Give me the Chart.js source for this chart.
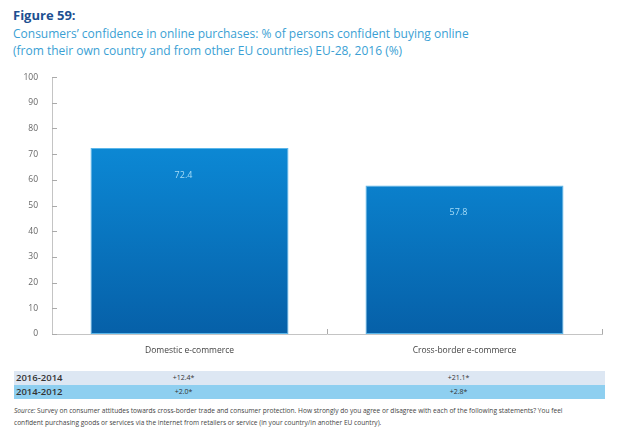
<!DOCTYPE html>
<html lang="en">
<head>
<meta charset="UTF-8">
<title>Figure 59</title>
<script src="https://cdn.jsdelivr.net/npm/chart.js"></script>
<style>
  body { margin: 0; background: #fff; font-family: "Open Sans", sans-serif; }
  .page { position: relative; width: 620px; height: 443px; overflow: hidden; }
  .fig { position: absolute; left: 13px; top: 6px; font-size: 13px; font-weight: bold; color: #1d4f91; }
  .sub { position: absolute; left: 13px; top: 25px; font-size: 12px; line-height: 17px; color: #3a9fd4; }
  #chartBox { position: absolute; left: 0; top: 66px; width: 620px; height: 290px; }
  .row { position: absolute; left: 14px; width: 591px; height: 14px; font-size: 9.5px; line-height: 14px; color: #333; }
  .row span { position: absolute; top: 0; }
  .row .lbl { left: 2px; font-weight: 600; }
  .row .val { font-size: 7px; transform: translateX(-50%); }
  .r1 { top: 371px; background: #dde7f3; }
  .r2 { top: 385px; background: #8ecff0; }
  .src { position: absolute; left: 14px; top: 405px; width: 600px; font-size: 6.6px; line-height: 12px; color: #444; }
</style>
</head>
<body>
<div class="page">
  <div class="fig">Figure 59:</div>
  <div class="sub">Consumers’ confidence in online purchases: % of persons confident buying online<br>(from their own country and from other EU countries) EU-28, 2016 (%)</div>
  <div id="chartBox"><canvas id="fig59"></canvas></div>
  <div class="row r1" id="row1"><span class="lbl">2016-2014</span></div>
  <div class="row r2" id="row2"><span class="lbl">2014-2012</span></div>
  <div class="src"><i>Source:</i> Survey on consumer attitudes towards cross-border trade and consumer protection. How strongly do you agree or disagree with each of the following statements? You feel<br>confident purchasing goods or services via the internet from retailers or service (in your country/in another EU country).</div>
</div>

<script>
const categories = ['Domestic e-commerce', 'Cross-border e-commerce'];
const confident2016 = [72.4, 57.8];
const change2016_2014 = ['+12.4*', '+21.1*'];
const change2014_2012 = ['+2.0*', '+2.8*'];
const yTicks = [0, 10, 20, 30, 40, 50, 60, 70, 80, 90, 100];

// ticks drawn inside the plot, value labels inside the bars
const insideTicks = {
    id: 'insideTicks',
    afterDatasetsDraw(chart) {
        const ctx = chart.ctx;
        const y = chart.scales.y;
        const x = chart.scales.x;
        const area = chart.chartArea;
        ctx.save();
        ctx.strokeStyle = '#aaa';
        ctx.lineWidth = 1;
        y.ticks.forEach((t, i) => {
            const py = Math.round(y.getPixelForTick(i)) + 0.5;
            ctx.beginPath();
            ctx.moveTo(area.left, py);
            ctx.lineTo(area.left + 5, py);
            ctx.stroke();
        });
        [0.5, 1.5].forEach(v => {
            const px = Math.round(x.getPixelForValue(v)) + 0.5;
            ctx.beginPath();
            ctx.moveTo(px, area.bottom);
            ctx.lineTo(px, area.bottom - 5);
            ctx.stroke();
        });
        ctx.fillStyle = '#a6dcf7';
        ctx.font = '9px "Open Sans"';
        ctx.textAlign = 'center';
        ctx.textBaseline = 'middle';
        chart.getDatasetMeta(0).data.forEach((bar, i) => {
            ctx.fillText(confident2016[i].toFixed(1), bar.x - 6, bar.y + 27);
        });
        ctx.restore();
    }
};

const ctx = document.getElementById('fig59').getContext('2d');

new Chart(ctx, {
    type: 'bar',
    data: {
        labels: categories,
        datasets: [{
            data: confident2016,
            backgroundColor: (c) => {
                const area = c.chart.chartArea;
                if (!area) return '#0a78c4';
                const g = c.chart.ctx.createLinearGradient(0, area.top, 0, area.bottom);
                g.addColorStop(0, '#1196e0');
                g.addColorStop(0.35, '#0b84d0');
                g.addColorStop(1, '#0660a8');
                return g;
            },
            borderColor: '#5ab6ea',
            borderWidth: 1,
            borderSkipped: false,
            categoryPercentage: 0.72,
            barPercentage: 1
        }]
    },
    options: {
        responsive: true,
        maintainAspectRatio: false,
        animation: false,
        layout: { padding: { top: 11, right: 18, left: 0, bottom: 0 } },
        plugins: {
            legend: { display: false },
            tooltip: { enabled: false }
        },
        scales: {
            y: {
                min: 0,
                max: 100,
                afterBuildTicks: (s) => { s.ticks = yTicks.map(v => ({ value: v })); },
                afterFit: (s) => { s.width = 52; },
                ticks: { color: '#666', font: { size: 8.5, family: 'Open Sans' }, padding: 6 },
                grid: { display: false },
                border: { display: true, color: '#c4c4c4', width: 1 }
            },
            x: {
                afterFit: (s) => { s.height = 22; },
                ticks: { color: '#444', font: { size: 8.5, family: 'Open Sans' }, padding: 3 },
                grid: { display: false },
                border: { display: true, color: '#c4c4c4', width: 1 }
            }
        }
    },
    plugins: [insideTicks]
});

// table values aligned under the categories
const chartObj = Chart.getChart('fig59');
const xs = chartObj.scales.x;
const rowLeft = 14;
[[document.getElementById('row1'), change2016_2014], [document.getElementById('row2'), change2014_2012]].forEach(([row, vals]) => {
    vals.forEach((v, i) => {
        const s = document.createElement('span');
        s.className = 'val';
        s.textContent = v;
        s.style.left = (xs.getPixelForValue(i) - rowLeft - 6) + 'px';
        row.appendChild(s);
    });
});
</script>
</body>
</html>
